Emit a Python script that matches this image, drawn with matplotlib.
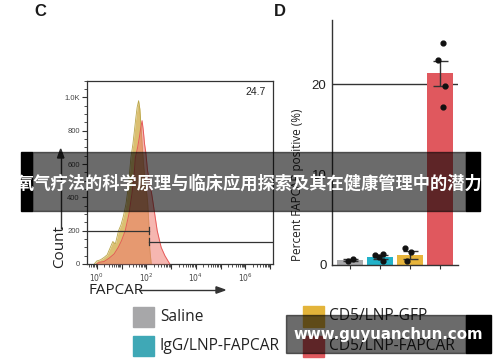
import numpy as np
import matplotlib
matplotlib.use("Agg")
import matplotlib.pyplot as plt
from matplotlib.patches import Rectangle
from matplotlib.ticker import FixedLocator, NullFormatter

plt.rcParams['font.family'] = ['Liberation Sans', 'DejaVu Sans']

# --- panel C: flow histogram (log10 FAPCAR, count) ---
gfp_log = [-0.1, 0.0, 0.15, 0.3, 0.42, 0.55, 0.65, 0.75, 0.88, 0.98, 1.08, 1.18, 1.28, 1.38,
           1.46, 1.52, 1.58, 1.63, 1.69, 1.74, 1.79, 1.84, 1.9, 1.98, 2.05, 2.1, 2.14, 2.2]
gfp_count = [0, 18, 25, 40, 55, 100, 135, 120, 200, 235, 290, 360, 470, 640,
             720, 800, 880, 940, 980, 930, 820, 700, 580, 470, 380, 250, 90, 0]
fap_log = [0.0, 0.1, 0.3, 0.5, 0.7, 0.87, 1.0, 1.15, 1.3, 1.42, 1.5, 1.56, 1.65, 1.72, 1.78,
           1.83, 1.88, 1.93, 1.98, 2.05, 2.15, 2.24, 2.34, 2.44, 2.6, 2.75, 2.85, 2.95]
fap_count = [0, 10, 15, 35, 60, 100, 140, 200, 300, 420, 520, 640, 700, 760, 820,
             860, 800, 720, 670, 560, 480, 400, 300, 200, 100, 50, 25, 0]
gate_pct = "24.7"

# --- panel D: bar chart ---
groups = ['Saline', 'IgG/LNP-FAPCAR', 'CD5/LNP-GFP', 'CD5/LNP-FAPCAR']
bar_mean = [0.5, 0.85, 1.05, 21.2]
bar_sem = [0.1, 0.2, 0.45, 1.4]
points = [[0.4, 0.6], [1.1, 1.2, 0.8, 0.35], [1.8, 1.35, 0.4], [24.6, 22.7, 19.8, 17.5]]
jitter = [[-0.07, 0.1], [-0.17, 0.1, -0.03, 0.09], [-0.17, 0.03, -0.1], [0.09, -0.06, 0.18, 0.09]]
bar_colors = ['#a9a9ab', '#22b2c9', '#e8b53c', '#e0585e']
legend_colors = ['#a7a7a9', '#3fa8b6', '#e3b43a', '#e05a5f']

W, H = 500, 362
def fx(x): return x / W
def fy(y): return 1 - y / H

fig = plt.figure(figsize=(5, 3.62), dpi=100)
ink = '#333333'

# ---------------- C ----------------
axc = fig.add_axes([fx(87.3), fy(264), fx(272.7) - fx(87.3), fy(80.7) - fy(264)])
axc.set_xscale('log')
axc.set_xlim(10 ** -0.38, 10 ** 7.1)
axc.set_ylim(0, 1100)
gx = 10 ** np.array(gfp_log)
rx = 10 ** np.array(fap_log)
axc.fill_between(gx, gfp_count, color='#d2b04e', alpha=0.8, lw=0, zorder=2)
axc.plot(gx, gfp_count, color='#b9a64a', lw=0.6, zorder=2)
axc.fill_between(rx, fap_count, color='#f07a70', alpha=0.55, lw=0, zorder=3)
axc.plot(rx, fap_count, color='#e65a5a', lw=0.7, zorder=3)

g1 = 10 ** 2.1
axc.plot([axc.get_xlim()[0], g1], [200, 200], color=ink, lw=0.9, zorder=4)
axc.plot([g1, g1], [180, 220], color=ink, lw=0.9, zorder=4)
axc.plot([g1, axc.get_xlim()[1]], [135, 135], color=ink, lw=0.9, zorder=4)
axc.plot([g1, g1], [115, 155], color=ink, lw=0.9, zorder=4)
axc.text(0.96, 0.94, gate_pct, transform=axc.transAxes, ha='right', va='center',
         fontsize=7.5, color='#222222')

axc.set_yticks([0, 200, 400, 600, 800, 1000])
axc.set_yticklabels(['0', '200', '400', '600', '800', '1.0K'])
axc.yaxis.set_minor_locator(FixedLocator(np.arange(0, 1101, 50)))
decades = list(range(0, 8))
axc.xaxis.set_major_locator(FixedLocator([10.0 ** d for d in decades]))
axc.set_xticklabels([f'$10^{d}$' if d % 2 == 0 and d < 7 else '' for d in decades])
minors = [m * 10.0 ** d for d in range(-1, 8) for m in range(2, 10)]
axc.xaxis.set_minor_locator(FixedLocator(minors))
axc.xaxis.set_minor_formatter(NullFormatter())
axc.tick_params(axis='both', which='major', labelsize=5.5, labelcolor='#444444',
                color=ink, length=3.5, width=0.8, pad=2)
axc.tick_params(axis='both', which='minor', color=ink, length=2, width=0.6)
for s in axc.spines.values():
    s.set_color(ink)
    s.set_linewidth(0.9)

fig.text(fx(60), fy(247), 'Count', rotation=90, ha='center', va='center',
         fontsize=11, family='Open Sans', color='#222222')
fig.add_artist(plt.Line2D([fx(60.7), fx(60.7)], [fy(228), fy(157)], color=ink, lw=1))
fig.add_artist(plt.Polygon([[fx(57.5), fy(158)], [fx(63.9), fy(158)], [fx(60.7), fy(149)]],
                           closed=True, color=ink))
fig.text(fx(88), fy(290), 'FAPCAR', ha='left', va='center', fontsize=11,
         family='Open Sans', color='#222222')
fig.add_artist(plt.Line2D([fx(140), fx(218)], [fy(290), fy(290)], color=ink, lw=1))
fig.add_artist(plt.Polygon([[fx(216), fy(286.8)], [fx(216), fy(293.2)], [fx(225), fy(290)]],
                           closed=True, color=ink))
fig.text(fx(40), fy(11), 'C', ha='center', va='center', fontsize=12, fontweight='bold',
         color='#1a1a1a')

# ---------------- D ----------------
axd = fig.add_axes([fx(332), fy(264.5), fx(458) - fx(332), fy(20) - fy(264.5)])
xs = np.arange(len(groups))
axd.bar(xs, bar_mean, width=0.88, color=bar_colors, zorder=2)
axd.axhline(20, color=ink, lw=1, zorder=1)
for i in range(len(groups)):
    axd.errorbar(xs[i], bar_mean[i], yerr=bar_sem[i], color=ink, lw=1,
                 capsize=5.4, capthick=1, zorder=3)
    axd.scatter(xs[i] + np.array(jitter[i]), points[i], s=12, color='#111111', zorder=4)
axd.set_xlim(-0.6, 3.6)
axd.set_ylim(0, 27.1)
axd.set_yticks([0, 10, 20])
axd.set_xticks(xs)
axd.set_xticklabels([])
axd.tick_params(axis='y', length=0, labelsize=9.5, pad=4, labelcolor='#222222')
axd.tick_params(axis='x', length=3, color=ink, width=0.8)
for k in ['top', 'right']:
    axd.spines[k].set_visible(False)
for k in ['left', 'bottom']:
    axd.spines[k].set_color(ink)
    axd.spines[k].set_linewidth(1)
fig.text(fx(298), fy(185), 'Percent FAPCAR positive (%)', rotation=90, ha='center',
         va='center', fontsize=8.5, family='Open Sans', color='#222222')
fig.text(fx(280), fy(11), 'D', ha='center', va='center', fontsize=12, fontweight='bold',
         color='#1a1a1a')

# ---------------- legend ----------------
leg_pos = [(133.3, 306.7), (133.3, 335.7), (302.7, 306), (302.7, 336)]
for (lx, ly), name, col in zip(leg_pos, groups, legend_colors):
    fig.add_artist(Rectangle((fx(lx), fy(ly + 20.5)), 21 / W, 20.5 / H, color=col,
                             transform=fig.transFigure))
    fig.text(fx(lx + 26.5), fy(ly + 10.5), name, ha='left', va='center', fontsize=11.2,
             family='Open Sans', color='#222222')

# ---------------- overlays ----------------
fig.add_artist(Rectangle((fx(32), fy(211)), (466 - 32) / W, 59 / H, color='black',
                         alpha=0.58, transform=fig.transFigure, zorder=10))
fig.add_artist(Rectangle((fx(21), fy(211)), 11 / W, 59 / H, color='black',
                         transform=fig.transFigure, zorder=10))
fig.add_artist(Rectangle((fx(466), fy(211)), 14 / W, 59 / H, color='black',
                         transform=fig.transFigure, zorder=10))
fig.text(fx(250), fy(183.5), '氧气疗法的科学原理与临床应用探索及其在健康管理中的潜力',
         ha='center', va='center', fontsize=12.4, fontweight='bold', color='white',
         family=['Noto Sans CJK SC', 'DejaVu Sans'], zorder=11)

fig.add_artist(Rectangle((fx(286), fy(353)), (466 - 286) / W, 38 / H, color='black',
                         alpha=0.58, transform=fig.transFigure, zorder=10))
fig.add_artist(Rectangle((fx(466), fy(353)), 25 / W, 38 / H, color='black',
                         transform=fig.transFigure, zorder=10))
fig.text(fx(388), fy(335), 'www.guyuanchun.com', ha='center', va='center',
         fontsize=10.8, fontweight='bold', color='white', family='DejaVu Sans', zorder=11)

fig.savefig('out.png', dpi=100)
